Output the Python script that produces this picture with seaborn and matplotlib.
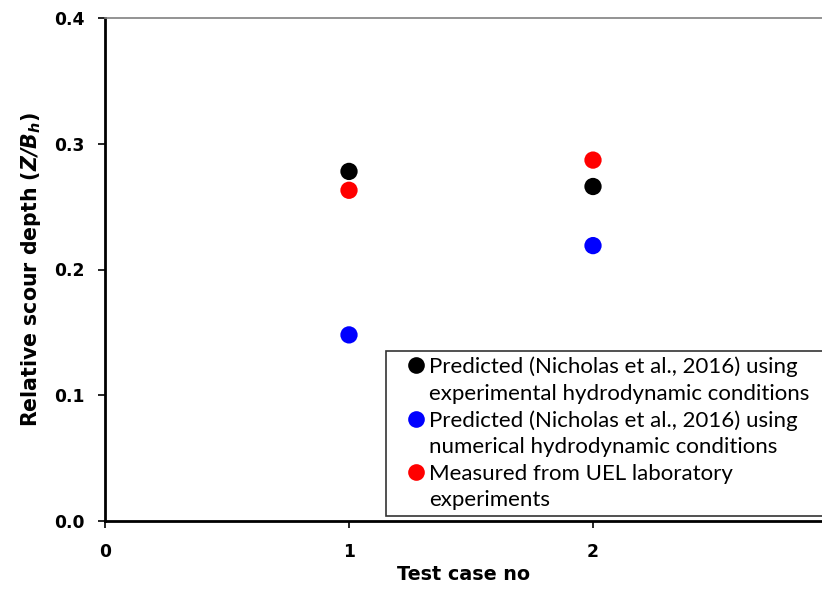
import matplotlib
matplotlib.use("Agg")
import matplotlib.pyplot as plt
from matplotlib.lines import Line2D
import seaborn as sns
import pandas as pd

cases = [1, 2]
pred_experimental = [0.278, 0.266]
pred_numerical = [0.148, 0.219]
measured = [0.263, 0.287]
series_labels = [
    "Predicted (Nicholas et al., 2016) using\nexperimental hydrodynamic conditions",
    "Predicted (Nicholas et al., 2016) using\nnumerical hydrodynamic conditions",
    "Measured from UEL laboratory\nexperiments",
]
series_colors = ["#000000", "#0000FF", "#FF0000"]
y_ticks = [0.0, 0.1, 0.2, 0.3, 0.4]
x_ticks = [0, 1, 2]

df = pd.concat([
    pd.DataFrame({"case": cases, "depth": vals, "series": lab})
    for vals, lab in zip([pred_experimental, pred_numerical, measured], series_labels)
])

sns.set_theme(style="white")
plt.rcParams["font.family"] = ["DejaVu Sans"]
plt.rcParams["mathtext.fontset"] = "dejavusans"
for k in ["text.color", "axes.labelcolor", "xtick.color", "ytick.color"]:
    plt.rcParams[k] = "black"

fig = plt.figure(figsize=(8.22, 5.89), dpi=100)
W, H = 822, 589
left, right, top, bottom = 105, 822, 18, 521
ax = fig.add_axes([left / W, (H - bottom) / H, (right - left) / W, (bottom - top) / H])

sns.scatterplot(data=df, x="case", y="depth", hue="series", palette=series_colors,
                hue_order=series_labels, s=155, edgecolor="none", ax=ax, legend=True)

ax.set_xlim(0, (right - left) / 244.0)
ax.set_ylim(0, 0.4)
ax.set_xticks(x_ticks)
ax.set_yticks(y_ticks)
ax.set_xticklabels([str(t) for t in x_ticks], fontweight="bold", fontsize=12.3)
ax.set_yticklabels([f"{t:.1f}" for t in y_ticks], fontweight="bold", fontsize=12.3)
ax.tick_params(axis="both", direction="out", length=5, width=1.2, color="black",
               bottom=True, left=True)
ax.tick_params(axis="x", pad=11)
ax.tick_params(axis="y", pad=10)

for s in ["left", "bottom"]:
    ax.spines[s].set_color("black")
    ax.spines[s].set_linewidth(2)
ax.spines["top"].set_color("#808080")
ax.spines["top"].set_linewidth(1.2)
ax.spines["right"].set_visible(False)

ax.set_xlabel("Test case no", fontweight="bold", fontsize=13.8, labelpad=3)
ax.set_ylabel(r"Relative scour depth ($\mathbfit{Z/B_h}$)", fontweight="bold", fontsize=14.8, labelpad=8)

handles, labels = ax.get_legend_handles_labels()
new_h, new_l = [], []
for h, lab in zip(handles, labels):
    first, second = lab.split("\n")
    h.set_markersize(12)
    h.set_markeredgewidth(0)
    new_h += [h, Line2D([], [], linestyle="none", marker=None)]
    new_l += [first, second]

leg = ax.legend(new_h, new_l, loc="upper left", bbox_to_anchor=(0.392, 0.016, 0.66, 0.322),
                mode="expand", frameon=True, fancybox=False, edgecolor="black",
                prop={"family": "Lato", "size": 16},
                handletextpad=-0.52, handlelength=2.22, borderpad=0.25, labelspacing=0.29,
                borderaxespad=0)
leg.get_frame().set_linewidth(1.2)

fig.savefig("out.png", dpi=100, facecolor="white")
